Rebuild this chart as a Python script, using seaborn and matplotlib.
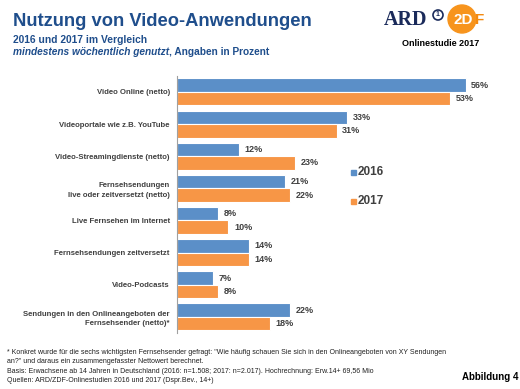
import pandas as pd
import numpy as np
import matplotlib.pyplot as plt
import seaborn as sns
from matplotlib.patches import Ellipse

categories = [
    "Video Online (netto)",
    "Videoportale wie z.B. YouTube",
    "Video-Streamingdienste (netto)",
    "Fernsehsendungen\nlive oder zeitversetzt (netto)",
    "Live Fernsehen im Internet",
    "Fernsehsendungen zeitversetzt",
    "Video-Podcasts",
    "Sendungen in den Onlineangeboten der\nFernsehsender (netto)*",
]
vals_2016 = [56, 33, 12, 21, 8, 14, 7, 22]
vals_2017 = [53, 31, 23, 22, 10, 14, 8, 18]
years = ["2016", "2017"]

df = pd.DataFrame({
    "cat": categories * 2,
    "wert": vals_2016 + vals_2017,
    "jahr": [years[0]] * len(categories) + [years[1]] * len(categories),
})

sns.set_style("white")
plt.rcParams['font.family'] = ['Liberation Sans', 'DejaVu Sans']

blue = "#5B8FC8"
orange = "#F79646"
navy = "#1F4E8C"
grey = "#404040"

fig = plt.figure(figsize=(5.2, 3.89), dpi=100)
ax = fig.add_axes([0.340, 0.144, 0.595, 0.661])

sns.barplot(data=df, y="cat", x="wert", hue="jahr", orient="h",
            palette=[blue, orange], saturation=1, width=0.84,
            edgecolor="white", linewidth=0.8, ax=ax, legend=False)

for cont in ax.containers:
    ax.bar_label(cont, labels=[f"{int(v)}%" for v in cont.datavalues],
                 padding=4, fontsize=6.5, fontweight="bold", color=grey)

ax.set_xlim(0, 60)
ax.set_ylim(len(categories) - 0.5, -0.5)
ax.set_xlabel("")
ax.set_ylabel("")
ax.set_xticks([])
ax.set_yticks(np.arange(len(categories)))
ax.set_yticklabels(categories, fontsize=5.6, fontweight="bold", color=grey,
                   linespacing=1.5)
ax.tick_params(axis="y", length=0, pad=5)
ax.set_yticks(np.arange(len(categories) + 1) - 0.5, minor=True)
ax.tick_params(axis="y", which="minor", length=4, color="#A0A0A0", width=0.8)
for s in ["top", "right", "bottom"]:
    ax.spines[s].set_visible(False)
ax.spines["left"].set_color("#A0A0A0")
ax.spines["left"].set_linewidth(0.8)

# legend
fig.patches.append(plt.Rectangle((351 / 520, 1 - 175 / 389), 5 / 520, 5 / 389,
                                 color=blue, transform=fig.transFigure))
fig.patches.append(plt.Rectangle((351 / 520, 1 - 204 / 389), 5 / 520, 5 / 389,
                                 color=orange, transform=fig.transFigure))
fig.text(358 / 520, 1 - 172 / 389, "2016", fontsize=8.5, fontweight="bold",
         color=grey, va="center")
fig.text(358 / 520, 1 - 201 / 389, "2017", fontsize=8.5, fontweight="bold",
         color=grey, va="center")

# titles
fig.text(13 / 520, 1 - 21 / 389, "Nutzung von Video-Anwendungen", fontsize=13.2,
         fontweight="bold", color=navy, va="center")
fig.text(13 / 520, 1 - 40 / 389, "2016 und 2017 im Vergleich", fontsize=7.4,
         fontweight="bold", color=navy, va="center")
t = fig.text(13 / 520, 1 - 52 / 389, "mindestens wöchentlich genutzt",
             fontsize=7.3, fontweight="bold", style="italic", color=navy,
             va="center")
fig.canvas.draw()
bb = t.get_window_extent().transformed(fig.transFigure.inverted())
fig.text(bb.x1, 1 - 52 / 389, ", Angaben in Prozent", fontsize=7.3,
         fontweight="bold", color=navy, va="center")

# logo
fig.text(384 / 520, 1 - 20 / 389, "ARD", fontsize=14.5, fontweight="bold",
         family="Liberation Serif", color="#1A2A5A", va="center")
fig.patches.append(Ellipse((438 / 520, 1 - 15 / 389), 10 / 520, 10 / 389,
                           facecolor="white", edgecolor="#1A2A5A", lw=1.2,
                           transform=fig.transFigure))
fig.text(438 / 520, 1 - 15 / 389, "1", fontsize=5, fontweight="bold",
         color="#1A2A5A", va="center", ha="center")
fig.patches.append(Ellipse((462 / 520, 1 - 19 / 389), 28 / 520, 28 / 389,
                           color="#F7941D", transform=fig.transFigure))
zt = fig.text(454 / 520, 1 - 20 / 389, "2D", fontsize=11, fontweight="bold",
              color="white", va="center")
fig.canvas.draw()
zb = zt.get_window_extent().transformed(fig.transFigure.inverted())
fig.text(zb.x1 + 1 / 520, 1 - 20 / 389, "F", fontsize=11, fontweight="bold",
         color="#F48A10", va="center")
fig.text(441 / 520, 1 - 43 / 389, "Onlinestudie 2017", fontsize=6.5,
         fontweight="bold", color="black", va="center", ha="center")

# footnotes
notes = [
    "* Konkret wurde für die sechs wichtigsten Fernsehsender gefragt: \"Wie häufig schauen Sie sich in den Onlineangeboten von XY Sendungen",
    "an?\" und daraus ein zusammengefasster Nettowert berechnet.",
    "Basis: Erwachsene ab 14 Jahren in Deutschland (2016: n=1.508; 2017: n=2.017). Hochrechnung: Erw.14+ 69,56 Mio",
    "Quellen: ARD/ZDF-Onlinestudien 2016 und 2017 (Dspr.Bev., 14+)",
]
for i, line in enumerate(notes):
    fig.text(7 / 520, 1 - (352 + i * 9.6) / 389, line, fontsize=5,
             color="#202020", va="center")
fig.text(462 / 520, 1 - 377 / 389, "Abbildung 4", fontsize=7,
         fontweight="bold", color="black", va="center")

fig.savefig("out.png", dpi=100)
